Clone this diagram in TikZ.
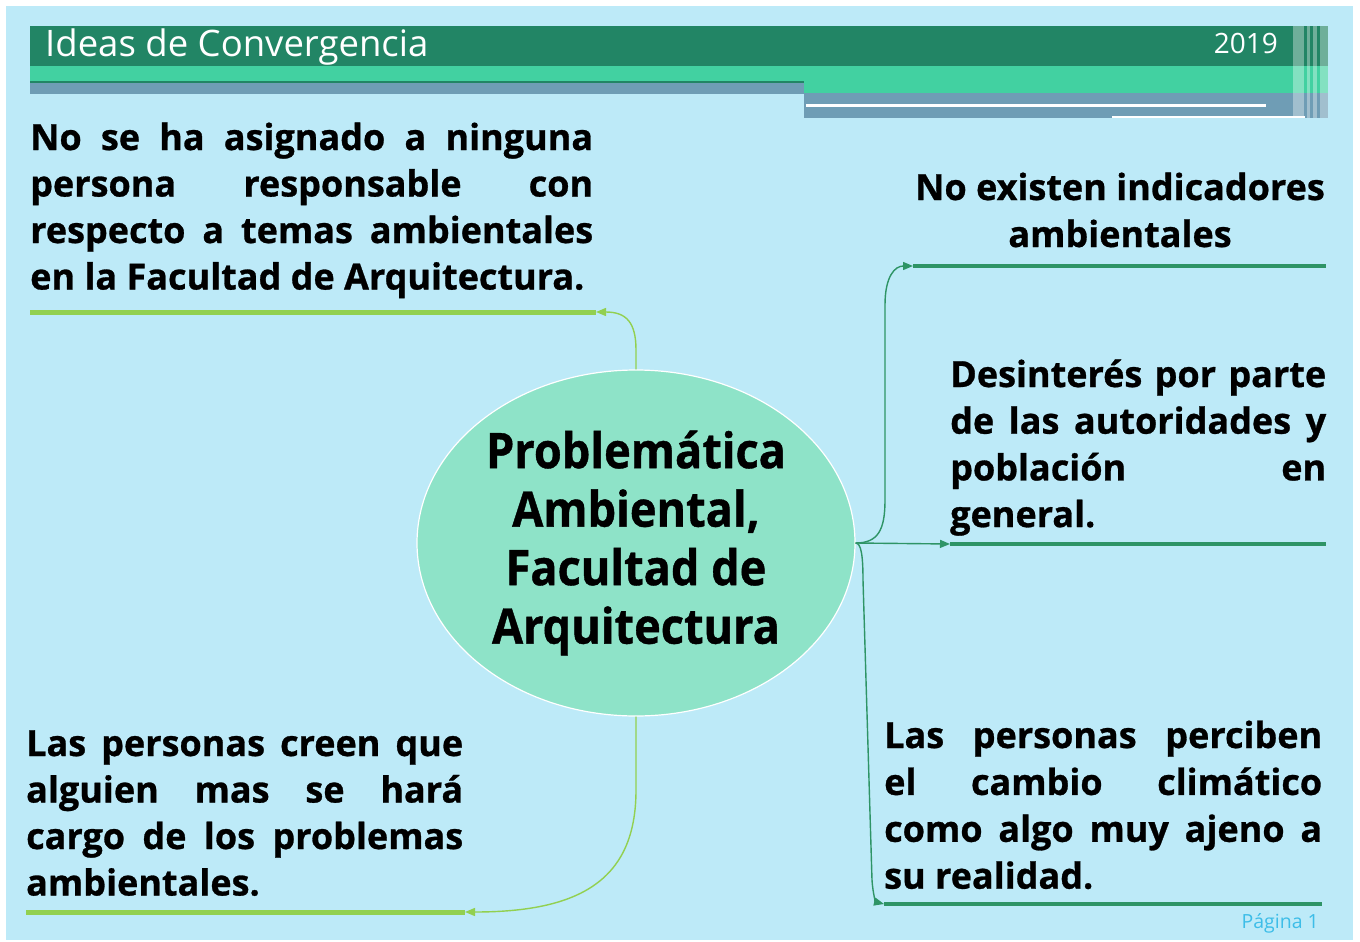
\documentclass[tikz,border=0pt]{standalone}
\usepackage{fontspec}
\setmainfont{Open Sans}
\newfontfamily\bodyfont[FakeBold=0.8]{Open Sans}
\newfontfamily\ellfont[FakeStretch=0.92,FakeBold=0.8]{Open Sans}
\usetikzlibrary{arrows.meta,shapes.geometric}
\definecolor{bgblue}{HTML}{BDEAF8}
\definecolor{hdark}{HTML}{228565}
\definecolor{hlight}{HTML}{42D1A1}
\definecolor{hgrey}{HTML}{6F9DB5}
\definecolor{limeg}{HTML}{92D050}
\definecolor{dgreen}{HTML}{2E9466}
\definecolor{mint}{HTML}{8EE3C8}
\definecolor{pagecol}{HTML}{3DBDE8}
\newcommand{\jl}[2]{\makebox[#1][s]{#2}}
\tikzset{
  connL/.style={draw=limeg, line width=1.4pt, -{Triangle[length=10pt,width=8pt]}},
  connD/.style={draw=dgreen, line width=1.4pt, -{Triangle[length=10pt,width=8pt]}},
  ulineL/.style={draw=limeg, line width=5pt},
  ulineD/.style={draw=dgreen, line width=4pt},
  txtblock/.style={anchor=base west, inner sep=0pt, font=\bodyfont\bfseries\fontsize{36}{46.5}\selectfont},
  stripe/.style={fill=white, fill opacity=0.35}
}
\begin{document}
\begin{tikzpicture}[x=1pt,y=-1pt]
\useasboundingbox (0,0) rectangle (1360,942);
\fill[white] (0,0) rectangle (1360,942);
\fill[bgblue] (6,6) rectangle (1353,940);
% header
\fill[hdark] (30,26) rectangle (1328,66);
\fill[hlight] (30,66) rectangle (1328,82);
\fill[hlight] (804,66) rectangle (1328,93);
\fill[hdark] (30,81) rectangle (804,83);
\fill[hgrey] (30,83) rectangle (804,94);
\fill[hgrey] (804,93) rectangle (1328,118);
\fill[white] (806,104) rectangle (1266,106.5);
\fill[white] (1112,116) rectangle (1305,118);
\fill[stripe] (1293,26) rectangle (1304,118);
\fill[stripe] (1307,26) rectangle (1310,118);
\fill[stripe] (1313,26) rectangle (1317,118);
\fill[stripe] (1320,26) rectangle (1328,118);
\node[anchor=base west, inner sep=0pt, text=white, font=\fontsize{36.5}{40}\selectfont] (ttl) at (45,57) {Ideas de Convergencia};
\node[anchor=base east, inner sep=0pt, text=white, font=\fontsize{28}{30}\selectfont] (yr) at (1278,54) {2019};
% central ellipse
\node[ellipse, minimum width=438pt, minimum height=346pt, inner sep=0pt, fill=mint, draw=white, line width=1.2pt,
      font=\ellfont\bfseries\fontsize{49}{58.5}\selectfont, align=center] (ell) at (636,543)
  {Problemática\\Ambiental,\\Facultad de\\Arquitectura};
% text blocks
\node[txtblock] (b1) at (30,150) {\parbox[t]{563pt}{\fontsize{36}{46.5}\selectfont
\jl{563pt}{No se ha asignado a ninguna}\\
\jl{563pt}{persona responsable con}\\
\jl{563pt}{respecto a temas ambientales}\\
en la Facultad de Arquitectura.}};
\node[txtblock, anchor=base] (b2) at (1120,200) {\parbox[t]{440pt}{\centering\fontsize{36}{47}\selectfont
No existen indicadores\\ambientales}};
\node[txtblock] (b3) at (950,387) {\parbox[t]{376pt}{\fontsize{36}{46.7}\selectfont
\jl{376pt}{Desinterés por parte}\\
\jl{376pt}{de las autoridades y}\\
\jl{376pt}{población en}\\
general.}};
\node[txtblock] (b4) at (884,748) {\parbox[t]{438pt}{\fontsize{36}{46.9}\selectfont
\jl{438pt}{Las personas perciben}\\
\jl{438pt}{el cambio climático}\\
\jl{438pt}{como algo muy ajeno a}\\
su realidad.}};
\node[txtblock] (b5) at (26,756) {\parbox[t]{437pt}{\fontsize{36}{46.5}\selectfont
\jl{437pt}{Las personas creen que}\\
\jl{437pt}{alguien mas se hará}\\
\jl{437pt}{cargo de los problemas}\\
ambientales.}};
\node[anchor=base east, inner sep=0pt, text=pagecol, font=\fontsize{19.5}{22}\selectfont] (pg) at (1319,928) {Página 1};
% underlines
\coordinate (u1a) at (30,312); \coordinate (u1b) at (596,312);
\coordinate (u2a) at (913,266); \coordinate (u2b) at (1326,266);
\coordinate (u3a) at (950,544); \coordinate (u3b) at (1326,544);
\coordinate (u4a) at (884,904); \coordinate (u4b) at (1322,904);
\coordinate (u5a) at (26,912); \coordinate (u5b) at (465,912);
\draw[ulineL] (u1a) -- (u1b);
\draw[ulineD] (u2a) -- (u2b);
\draw[ulineD] (u3a) -- (u3b);
\draw[ulineD] (u4a) -- (u4b);
\draw[ulineL] (u5a) -- (u5b);
% connectors
\draw[connL] (ell.north) -- (636,350) .. controls (636,322) and (626,312) .. (u1b);
\draw[connD] (ell.east) .. controls (878,543) and (885,530) .. (885,500) -- (885,305) .. controls (885,276) and (895,266) .. (u2a);
\draw[connD] (ell.east) -- (u3a);
\draw[connD] (ell.east) .. controls (861,543) and (863,555) .. (863,580) -- (872,880) .. controls (873,895) and (876,902) .. (u4a);
\draw[connL] (ell.south) -- (636,790) .. controls (636,880) and (580,912) .. (u5b);
\end{tikzpicture}
\end{document}
